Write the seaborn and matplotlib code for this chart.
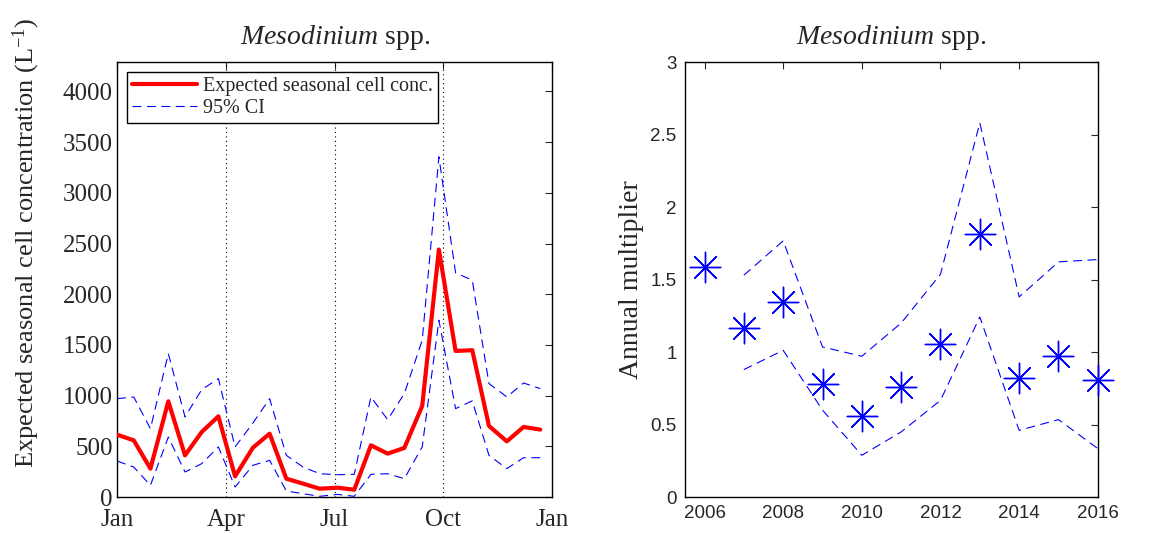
import numpy as np
import pandas as pd
import matplotlib.pyplot as plt
import seaborn as sns

# Seasonal panel: day of year, expected concentration and 95% CI
day = [0, 14, 28, 43, 57, 71, 85, 99, 114, 128, 142, 156, 170,
       185, 199, 213, 227, 241, 256, 270, 284, 298, 312, 327, 341, 355]
expected = [615, 559, 280, 944, 411, 641, 796, 204, 487, 625, 181, 132, 82,
            92, 72, 510, 428, 484, 898, 2441, 1441, 1448, 701, 549, 691, 665]
ci_upper = [970, 987, 674, 1415, 790, 1059, 1168, 494, 730, 970, 411, 296, 230,
            220, 224, 987, 763, 1020, 1546, 3356, 2211, 2139, 1119, 987, 1125, 1069]
ci_lower = [355, 296, 115, 592, 247, 329, 494, 99, 313, 362, 59, 33, 7,
            26, 7, 224, 230, 181, 494, 1744, 872, 948, 411, 280, 388, 388]
month_ticks = [0, 91.25, 182.5, 273.75, 365]
month_labels = ["Jan", "Apr", "Jul", "Oct", "Jan"]

# Annual panel: multiplier per year and 95% CI
year = [2006, 2007, 2008, 2009, 2010, 2011, 2012, 2013, 2014, 2015, 2016]
multiplier = [1.585, 1.166, 1.346, 0.782, 0.557, 0.759, 1.054, 1.815, 0.821, 0.971, 0.805]
mult_upper = [np.nan, 1.53, 1.767, 1.035, 0.971, 1.20, 1.537, 2.581, 1.38, 1.622, 1.638]
mult_lower = [np.nan, 0.879, 1.012, 0.60, 0.288, 0.449, 0.667, 1.242, 0.46, 0.534, 0.334]

season = pd.DataFrame({"day": day, "expected": expected,
                       "upper": ci_upper, "lower": ci_lower})
annual = pd.DataFrame({"year": year, "mult": multiplier,
                       "upper": mult_upper, "lower": mult_lower})

sns.set_style("white")
plt.rcParams["font.family"] = ["Liberation Serif", "DejaVu Serif"]
plt.rcParams["mathtext.fontset"] = "custom"
plt.rcParams["mathtext.rm"] = "Liberation Serif"
plt.rcParams["mathtext.it"] = "Liberation Serif:italic"
plt.rcParams["xtick.direction"] = "in"
plt.rcParams["ytick.direction"] = "in"
plt.rcParams["axes.edgecolor"] = "black"
plt.rcParams["axes.linewidth"] = 1.0

fig = plt.figure(figsize=(11.51, 5.33), dpi=100)
ax1 = fig.add_axes([0.1017, 0.0675, 0.378, 0.816])
ax2 = fig.add_axes([0.595, 0.0675, 0.3588, 0.816])

dash = (0, (8, 5))
title = r"$\it{Mesodinium}$ spp."

#%% Left: seasonal cell concentration

for x in month_ticks[1:4]:
    ax1.axvline(x, color="black", linestyle=(0, (1, 3)), linewidth=0.8, zorder=1)

sns.lineplot(data=season, x="day", y="expected", color="red", linewidth=3,
             label="Expected seasonal cell conc.", ax=ax1, zorder=3)
sns.lineplot(data=season, x="day", y="upper", color="blue", linewidth=0.8,
             linestyle=dash, label="95% CI", ax=ax1, zorder=2)
sns.lineplot(data=season, x="day", y="lower", color="blue", linewidth=0.8,
             linestyle=dash, ax=ax1, zorder=2)

ax1.set_xlim(0, 365)
ax1.set_ylim(0, 4290)
ax1.set_xticks(month_ticks)
ax1.set_xticklabels(month_labels)
ax1.set_yticks(range(0, 4001, 500))
ax1.tick_params(labelsize=18, top=True, right=True, length=5, width=0.8)
ax1.tick_params(axis="y", pad=3)
ax1.tick_params(axis="x", pad=8.5)
ax1.set_xlabel("")
ax1.set_ylabel(r"Expected seasonal cell concentration (L$^{-1}$)", fontsize=19)
ax1.yaxis.set_label_coords(-0.172, 0.584)
ax1.set_title(title, fontsize=20, pad=13)

leg = ax1.legend(loc="upper left", fontsize=14.5, frameon=True, fancybox=False,
                 framealpha=1, edgecolor="black", handlelength=3.2,
                 borderaxespad=0.5, borderpad=0.25, labelspacing=0.15, handletextpad=0.3)
leg.get_frame().set_linewidth(1.0)
leg.set_zorder(5)

#%% Right: annual multiplier

sns.lineplot(data=annual, x="year", y="upper", color="blue", linewidth=0.8,
             linestyle=dash, ax=ax2)
sns.lineplot(data=annual, x="year", y="lower", color="blue", linewidth=0.8,
             linestyle=dash, ax=ax2)
sns.scatterplot(data=annual, x="year", y="mult", marker=(8, 2, 0), s=480,
                color="blue", linewidth=1.0, ax=ax2, zorder=4, clip_on=False)

ax2.set_xlim(2005.5, 2016)
ax2.set_ylim(0, 3)
ax2.set_xticks(range(2006, 2017, 2))
ax2.set_yticks([0, 0.5, 1, 1.5, 2, 2.5, 3])
ax2.set_yticklabels(["0", "0.5", "1", "1.5", "2", "2.5", "3"])
for lab in ax2.get_xticklabels() + ax2.get_yticklabels():
    lab.set_family(["Liberation Sans", "DejaVu Sans"])
ax2.tick_params(labelsize=13.5, top=True, right=True, length=5, width=0.8, pad=6)
ax2.set_xlabel("")
ax2.set_ylabel("Annual multiplier", fontsize=20)
ax2.yaxis.set_label_coords(-0.10, 0.5)
ax2.set_title(title, fontsize=20, pad=13)

fig.savefig("out.png", dpi=100)
